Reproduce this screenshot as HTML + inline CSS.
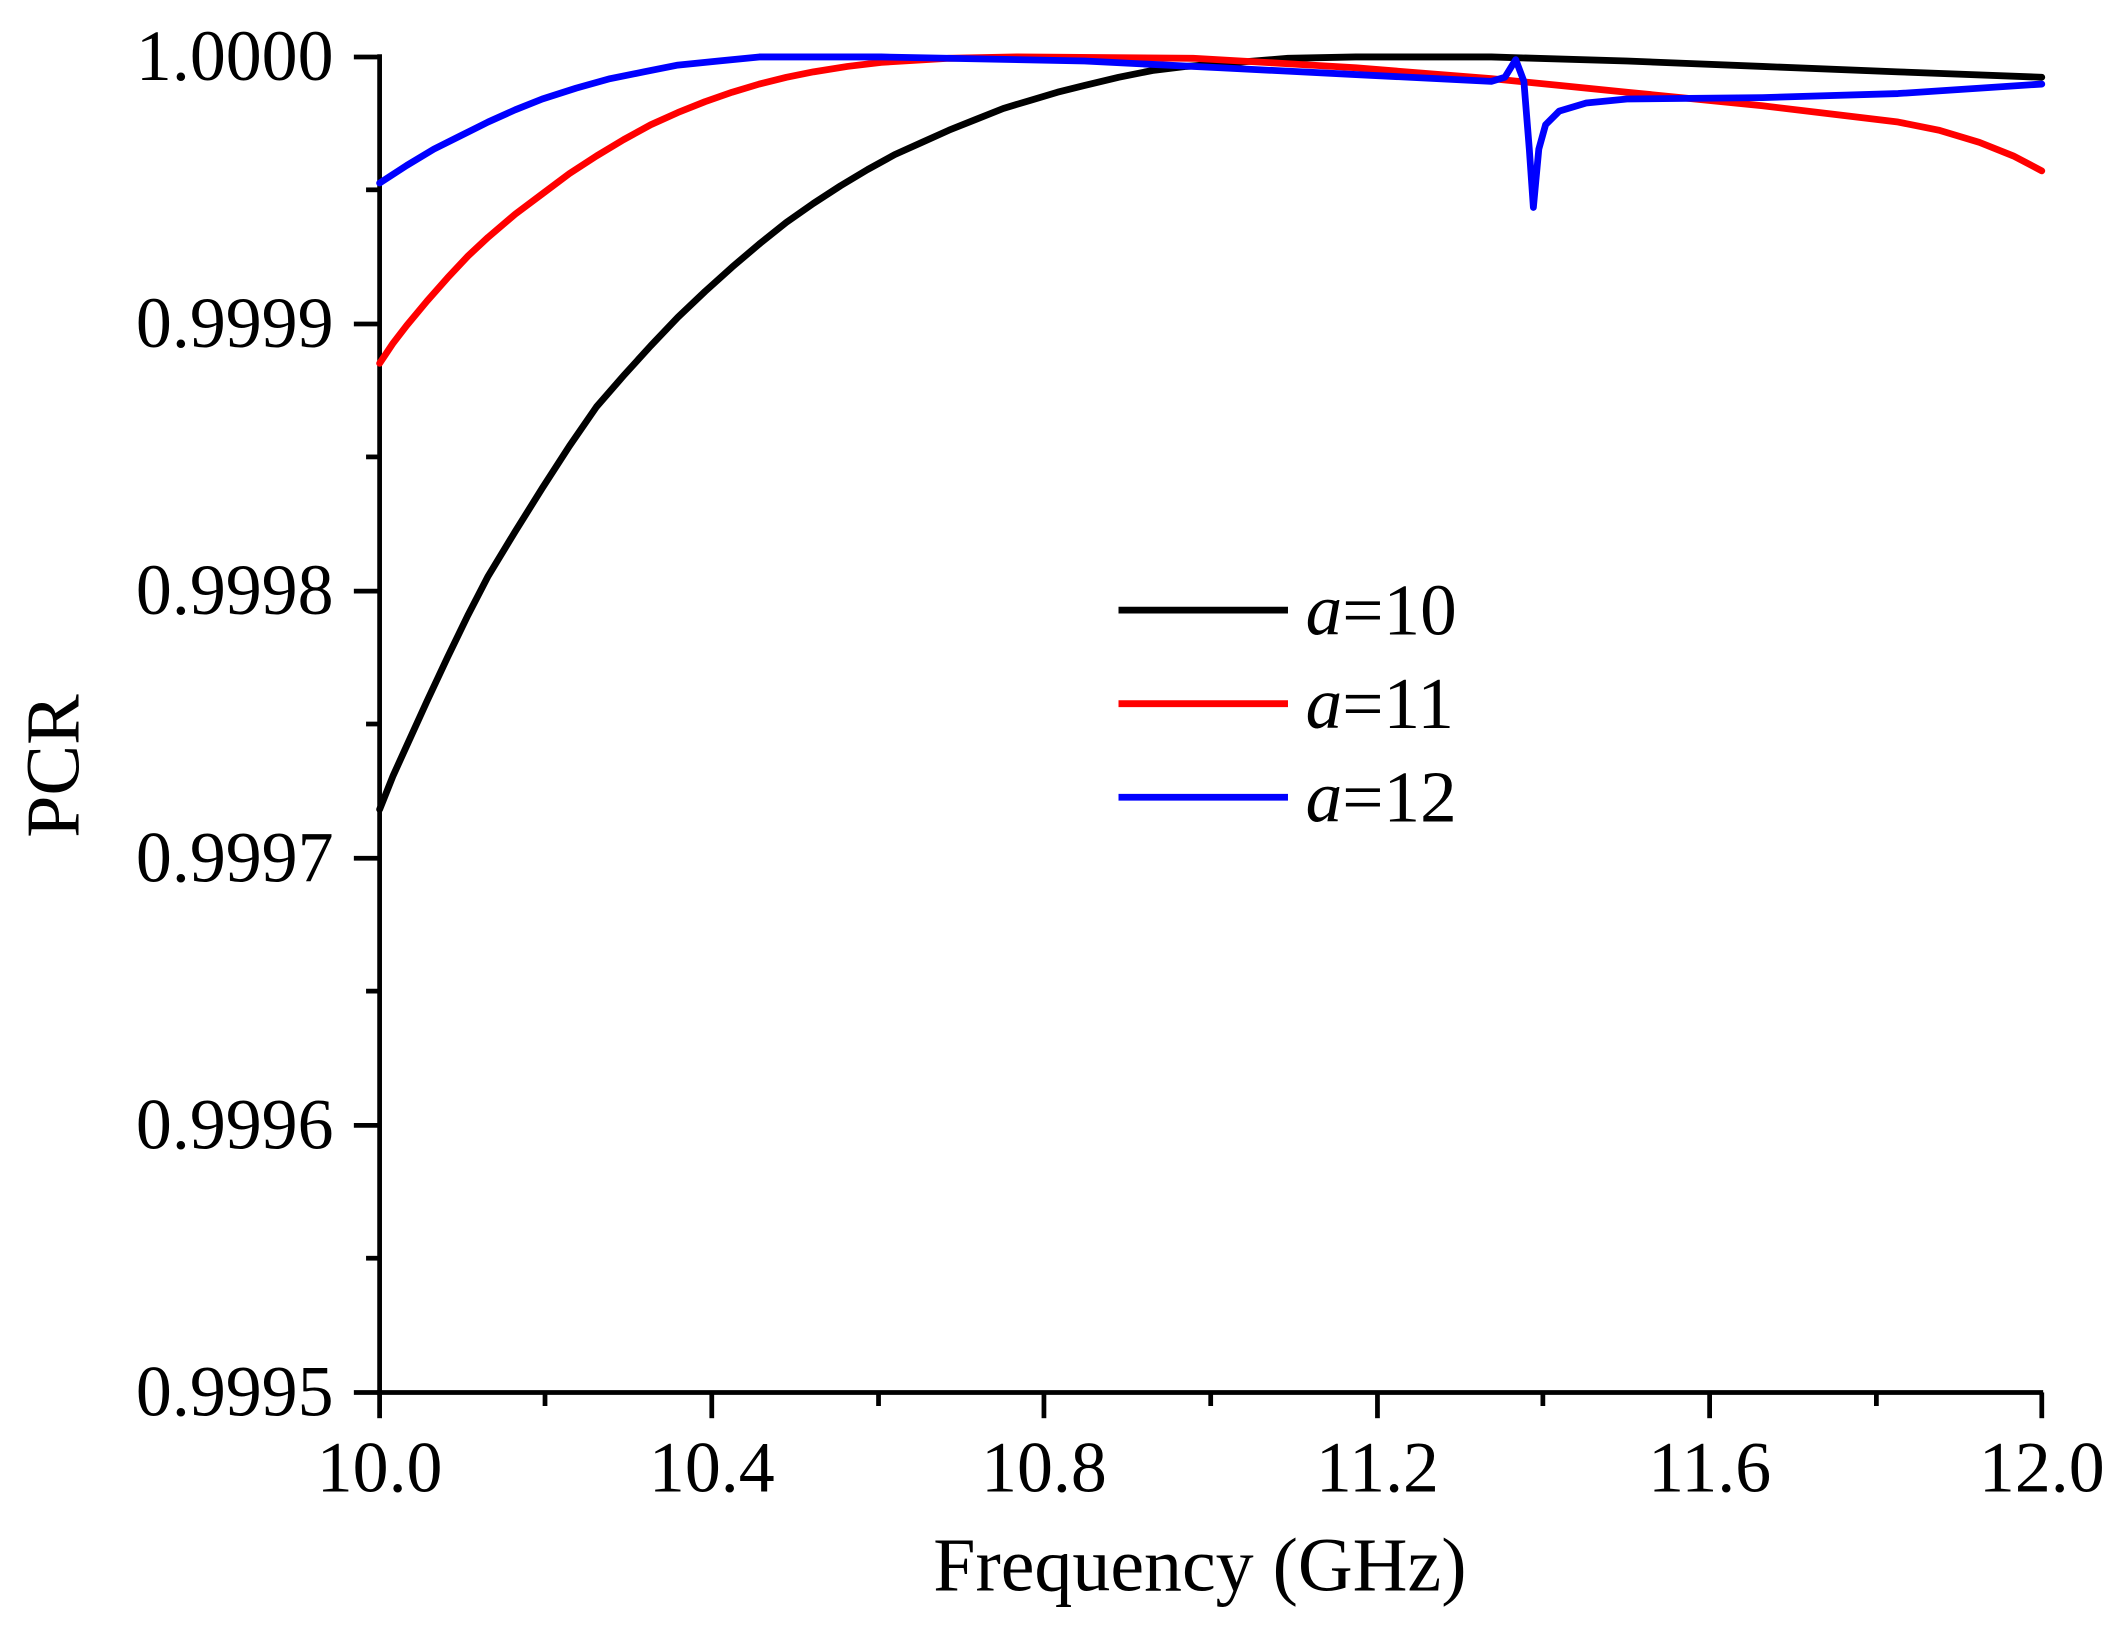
<!DOCTYPE html>
<html><head><meta charset="utf-8"><style>html,body{margin:0;padding:0;background:#fff}svg{display:block}</style></head>
<body>
<svg width="2115" height="1627" viewBox="0 0 1560 1200" preserveAspectRatio="none" xmlns="http://www.w3.org/2000/svg" font-family="Liberation Serif, serif">
<rect width="1560" height="1200" fill="#fff"/>
<g stroke="#000" stroke-width="3.5" fill="none">
<line x1="280" y1="40" x2="280" y2="1029"/>
<line x1="278" y1="1027" x2="1507" y2="1027"/>
<line x1="261" y1="42" x2="280" y2="42"/><line x1="261" y1="239" x2="280" y2="239"/><line x1="261" y1="436" x2="280" y2="436"/><line x1="261" y1="633" x2="280" y2="633"/><line x1="261" y1="830" x2="280" y2="830"/><line x1="261" y1="1027" x2="280" y2="1027"/>
<line x1="270" y1="140" x2="280" y2="140"/><line x1="270" y1="337" x2="280" y2="337"/><line x1="270" y1="534" x2="280" y2="534"/><line x1="270" y1="731" x2="280" y2="731"/><line x1="270" y1="928" x2="280" y2="928"/>
<line x1="280" y1="1027" x2="280" y2="1046"/><line x1="525" y1="1027" x2="525" y2="1046"/><line x1="770" y1="1027" x2="770" y2="1046"/><line x1="1016" y1="1027" x2="1016" y2="1046"/><line x1="1261" y1="1027" x2="1261" y2="1046"/><line x1="1506" y1="1027" x2="1506" y2="1046"/>
<line x1="402" y1="1027" x2="402" y2="1037"/><line x1="648" y1="1027" x2="648" y2="1037"/><line x1="893" y1="1027" x2="893" y2="1037"/><line x1="1138" y1="1027" x2="1138" y2="1037"/><line x1="1384" y1="1027" x2="1384" y2="1037"/>
</g>
<g font-size="53" text-anchor="end" fill="#000">
<text x="246" y="59">1.0000</text><text x="246" y="256">0.9999</text><text x="246" y="453">0.9998</text><text x="246" y="650">0.9997</text><text x="246" y="847">0.9996</text><text x="246" y="1044">0.9995</text>
</g>
<g font-size="53" text-anchor="middle" fill="#000">
<text x="280" y="1100">10.0</text><text x="525" y="1100">10.4</text><text x="770" y="1100">10.8</text><text x="1016" y="1100">11.2</text><text x="1261" y="1100">11.6</text><text x="1506" y="1100">12.0</text>
<text x="885" y="1173" font-size="56">Frequency (GHz)</text>
<text transform="translate(58,565) rotate(-90)" font-size="56">PCR</text>
</g>
<g fill="none" stroke-width="5" stroke-linejoin="round" stroke-linecap="round">
<polyline stroke="#000" points="280,597 290,572 300,550 315,517 330,485 345,454 360,425 380,392 400,360 420,329 440,300 460,277 480,255 500,234 520,215 540,197 560,180 580,164 600,150 620,137 640,125 660,114 680,105 700,96 720,88 740,80 760,74 780,68 800,63 825,57 850,52 875,49 900,47 950,43 1000,42 1100,42 1200,45 1300,49 1400,53 1506,57"/>
<polyline stroke="#f00" points="280,268 290,253 300,240 315,222 330,205 345,189 360,175 380,158 400,143 420,128 440,115 460,103 480,92 500,83 520,75 540,68 560,62 580,57 600,53 625,49 650,46 700,43 750,42 880,43 950,47 1000,50 1050,54 1100,58 1150,63 1200,68 1250,73 1300,78 1350,84 1400,90 1430,96 1460,105 1485,115 1506,126"/>
<polyline stroke="#00f" points="280,135 300,122 320,110 340,100 360,90 380,81 400,73 425,65 450,58 475,53 500,48 530,45 560,42 650,42 800,45 900,50 1000,55 1100,60 1110,57 1118,44 1124,60 1128,110 1131,153 1135,110 1140,92 1150,82 1170,76 1200,73 1300,72 1400,69 1506,62"/>
</g>
<g fill="none" stroke-width="5">
<line x1="825" y1="450" x2="950" y2="450" stroke="#000"/>
<line x1="825" y1="519" x2="950" y2="519" stroke="#f00"/>
<line x1="825" y1="588" x2="950" y2="588" stroke="#00f"/>
</g>
<g font-size="54" fill="#000">
<text x="963" y="468"><tspan font-style="italic">a</tspan>=10</text>
<text x="963" y="537"><tspan font-style="italic">a</tspan>=11</text>
<text x="963" y="606"><tspan font-style="italic">a</tspan>=12</text>
</g>
</svg>
</body></html>
